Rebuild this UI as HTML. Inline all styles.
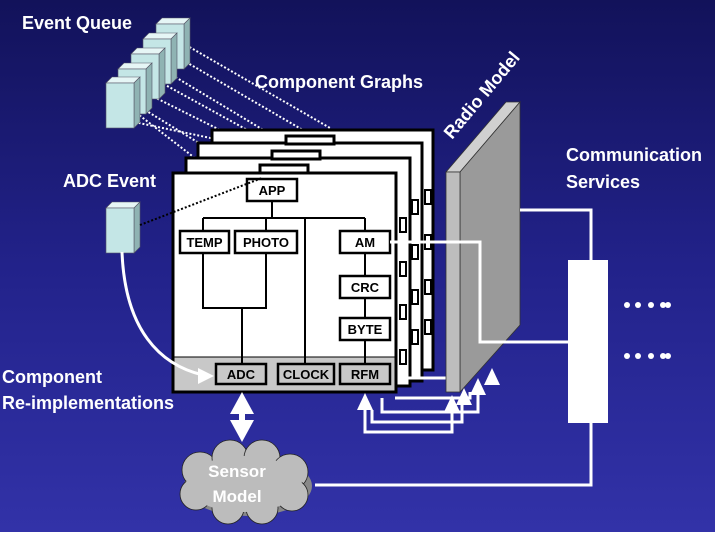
<!DOCTYPE html>
<html><head><meta charset="utf-8"><style>
html,body{margin:0;padding:0;background:#fff;}
svg{display:block;font-family:"Liberation Sans",Arial,sans-serif;}
</style></head><body>
<svg width="720" height="540" viewBox="0 0 720 540">
<defs>
<linearGradient id="bg" x1="0" y1="0" x2="0" y2="1">
<stop offset="0" stop-color="#12125a"/><stop offset="0.5" stop-color="#22228a"/><stop offset="1" stop-color="#3232a8"/>
</linearGradient>
<g id="eq">
<polygon points="0,0 6,-6 34,-6 28,0" fill="#e6f6f6" stroke="#556" stroke-width="0.6"/>
<polygon points="28,0 34,-6 34,39 28,45" fill="#8fb3b3" stroke="#556" stroke-width="0.6"/>
<rect x="0" y="0" width="28" height="45" fill="#c4e6e6" stroke="#556" stroke-width="0.6"/>
</g>
</defs>
<rect width="715" height="532" fill="url(#bg)"/>

<g stroke="#fff" stroke-width="2" stroke-dasharray="2,2" fill="none">
<path d="M186,45 L330,128"/><path d="M186,62 L320,140"/>
<path d="M172,75 L280,140"/><path d="M160,82 L280,148"/>
<path d="M150,95 L250,145"/><path d="M145,110 L230,162"/>
<path d="M130,108 L200,162"/><path d="M115,118 L220,140"/>
</g>
<g>
<use href="#eq" x="156" y="24"/>
<use href="#eq" x="143" y="39"/>
<use href="#eq" x="131" y="54"/>
<use href="#eq" x="118" y="69"/>
<use href="#eq" x="106" y="83"/>
<use href="#eq" x="106" y="208"/>
</g>

<g stroke="#000" stroke-width="3" fill="#fff">
<rect x="212" y="130" width="221" height="240"/>
<rect x="198" y="143" width="224" height="238"/>
<rect x="186" y="158" width="224" height="228"/>
<rect x="286" y="136" width="48" height="8"/>
<rect x="272" y="151" width="48" height="8"/>
<rect x="260" y="165" width="48" height="8"/>
</g>
<g stroke="#000" stroke-width="2" fill="#fff">
<rect x="425" y="190" width="6" height="14"/><rect x="425" y="235" width="6" height="14"/><rect x="425" y="280" width="6" height="14"/><rect x="425" y="320" width="6" height="14"/>
<rect x="412" y="200" width="6" height="14"/><rect x="412" y="245" width="6" height="14"/><rect x="412" y="290" width="6" height="14"/><rect x="412" y="330" width="6" height="14"/>
<rect x="400" y="218" width="6" height="14"/><rect x="400" y="262" width="6" height="14"/><rect x="400" y="305" width="6" height="14"/><rect x="400" y="350" width="6" height="14"/>
</g>

<rect x="173" y="173" width="223" height="219" fill="#fff" stroke="#000" stroke-width="3"/>
<rect x="174.5" y="357" width="220" height="33.5" fill="#c8c8c8"/>
<line x1="174" y1="357" x2="395" y2="357" stroke="#000" stroke-width="1"/>
<g stroke="#000" stroke-width="2" fill="none">
<path d="M272,200 V218 M203,218 H365 M203,218 V231 M266,218 V231 M305,218 V364 M365,218 V231"/>
<path d="M203,253 V308 H266 V253 M242,308 V364"/>
<path d="M365,253 V276 M365,298 V318 M365,340 V364"/>
</g>
<g font-weight="bold" font-size="13" text-anchor="middle">
<rect x="247" y="179" width="50" height="22" fill="#fff" stroke="#000" stroke-width="2.5"/><text x="272" y="195">APP</text>
<rect x="180" y="231" width="49" height="22" fill="#fff" stroke="#000" stroke-width="2.5"/><text x="204.5" y="247">TEMP</text>
<rect x="235" y="231" width="62" height="22" fill="#fff" stroke="#000" stroke-width="2.5"/><text x="266" y="247">PHOTO</text>
<rect x="340" y="231" width="50" height="22" fill="#fff" stroke="#000" stroke-width="2.5"/><text x="365" y="247">AM</text>
<rect x="340" y="276" width="50" height="22" fill="#fff" stroke="#000" stroke-width="2.5"/><text x="365" y="292">CRC</text>
<rect x="340" y="318" width="50" height="22" fill="#fff" stroke="#000" stroke-width="2.5"/><text x="365" y="334">BYTE</text>
<rect x="216" y="364" width="50" height="20" fill="#c8c8c8" stroke="#000" stroke-width="2.5"/><text x="241" y="379">ADC</text>
<rect x="278" y="364" width="56" height="20" fill="#c8c8c8" stroke="#000" stroke-width="2.5"/><text x="306" y="379">CLOCK</text>
<rect x="340" y="364" width="50" height="20" fill="#c8c8c8" stroke="#000" stroke-width="2.5"/><text x="365" y="379">RFM</text>
</g>
<path d="M140,225 L262,178" stroke="#000" stroke-width="2" stroke-dasharray="2,2"/>

<g stroke="#fff" stroke-width="3" fill="none">
<path d="M398,378 H455"/>
<path d="M395,398 H470 V392"/>
<path d="M382,398 V412 H478 V385"/>
<path d="M372,410 V422 H462 V400"/>
<path d="M365,405 V432 H452 V402"/>
</g>
<g fill="#fff">
<polygon points="365,393 357,410 373,410"/>
<polygon points="452,395 444,412 460,412"/>
<polygon points="464,388 456,405 472,405"/>
<polygon points="478,378 470,395 486,395"/>
<polygon points="492,368 484,385 500,385"/>
</g>

<polygon points="446,172 506,102 520,102 460,172" fill="#d0d0d0" stroke="#333" stroke-width="0.8"/>
<polygon points="460,172 520,102 520,325 460,392" fill="#9a9a9a" stroke="#333" stroke-width="0.8"/>
<rect x="446" y="172" width="14" height="220" fill="#bdbdbd" stroke="#333" stroke-width="0.8"/>

<g stroke="#fff" stroke-width="3" fill="none">
<path d="M390,242 H480 V342 H570"/>
<path d="M520,210 H591 V260"/>
<path d="M591,423 V485 H315"/>
</g>
<rect x="568" y="260" width="40" height="163" fill="#fff"/>
<g fill="#fff">
<circle cx="627" cy="305" r="3"/><circle cx="638" cy="305" r="3"/><circle cx="651" cy="305" r="3"/><circle cx="663" cy="305" r="3"/><circle cx="668" cy="305" r="3"/>
<circle cx="627" cy="356" r="3"/><circle cx="638" cy="356" r="3"/><circle cx="651" cy="356" r="3"/><circle cx="663" cy="356" r="3"/><circle cx="668" cy="356" r="3"/>
</g>

<path d="M122,252 C125,330 160,365 203,375" stroke="#fff" stroke-width="3" fill="none"/>
<polygon points="214,376 198,368 198,384" fill="#fff"/>

<rect x="239" y="402" width="6" height="28" fill="#fff"/>
<polygon points="242,392 230,414 254,414" fill="#fff"/>
<polygon points="242,442 230,420 254,420" fill="#fff"/>

<ellipse cx="248" cy="486" rx="64" ry="30" fill="#888"/>
<g fill="#bcbcbc" stroke="#222" stroke-width="0.8">
<circle cx="200" cy="470" r="18"/><circle cx="230" cy="458" r="18"/><circle cx="262" cy="458" r="18"/><circle cx="290" cy="472" r="18"/>
<circle cx="292" cy="495" r="16"/><circle cx="262" cy="508" r="16"/><circle cx="228" cy="508" r="16"/><circle cx="196" cy="494" r="16"/>
</g>
<ellipse cx="244" cy="484" rx="58" ry="28" fill="#bcbcbc"/>
<g fill="#fff" font-weight="bold" font-size="17" text-anchor="middle">
<text x="237" y="477">Sensor</text><text x="237" y="502">Model</text>
</g>

<g fill="#fff" font-weight="bold" font-size="18">
<text x="22" y="29">Event Queue</text>
<text x="255" y="88">Component Graphs</text>
<text x="63" y="187">ADC Event</text>
<text x="566" y="161">Communication</text>
<text x="566" y="188">Services</text>
<text x="2" y="383">Component</text>
<text x="2" y="409">Re-implementations</text>
<text x="0" y="0" transform="translate(452,140) rotate(-50)">Radio Model</text>
</g>
</svg>
</body></html>
